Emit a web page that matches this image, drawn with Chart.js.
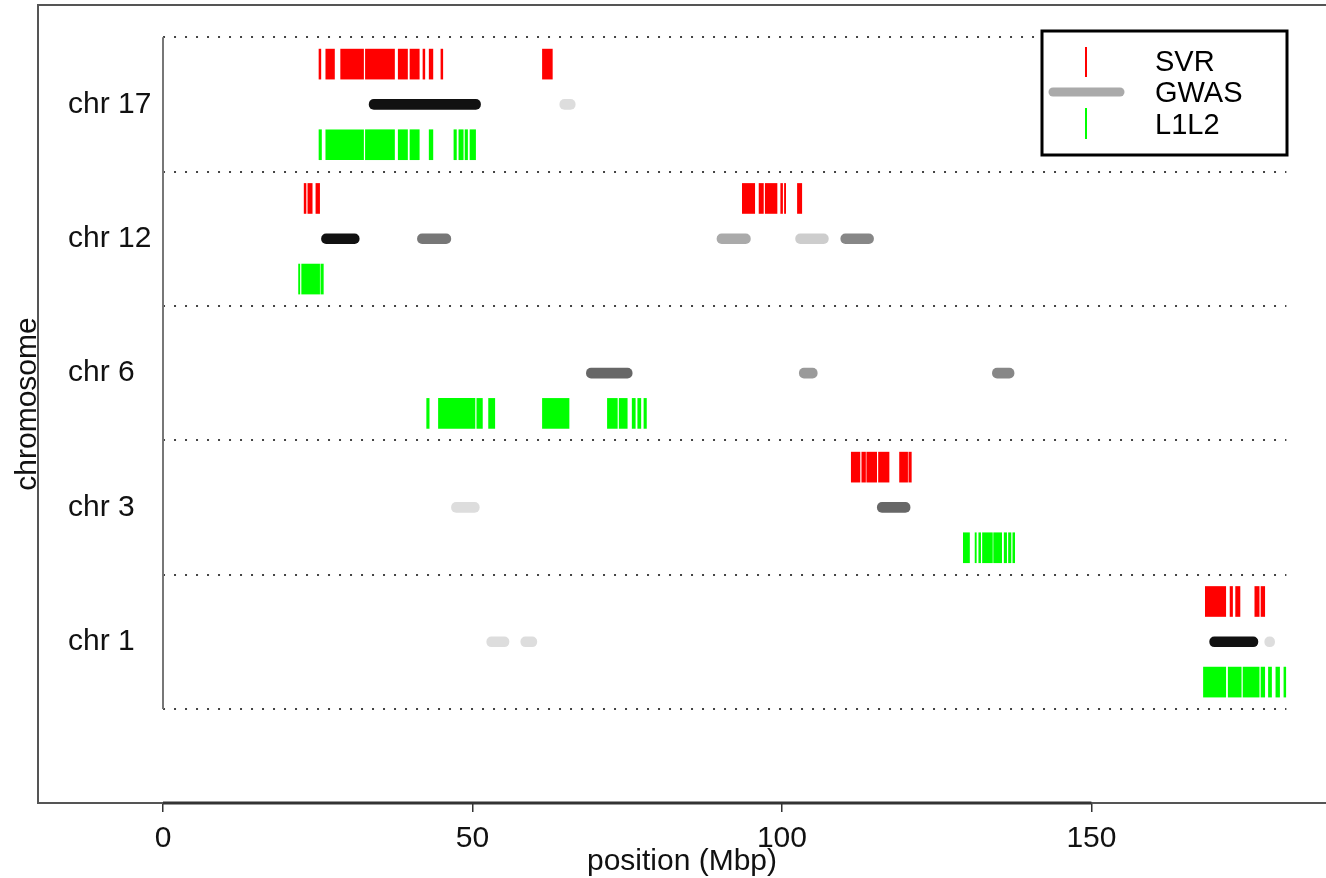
<!DOCTYPE html>
<html lang="en">
<head>
    <meta charset="UTF-8">
    <title>SVR / GWAS / L1L2 regions</title>
    <script src="https://cdn.jsdelivr.net/npm/chart.js"></script>
    <style>
        body { margin: 0; background: #fff; }
        #wrap { width: 1326px; height: 878px; }
    </style>
</head>
<body>
<div id="wrap"><canvas id="grafico"></canvas></div>

<script>
    // chromosomes, from bottom to top
    const chromosomes = ['chr 1', 'chr 3', 'chr 6', 'chr 12', 'chr 17'];
    const xTicks = [0, 50, 100, 150];

    // [chromosome, start Mbp, end Mbp]
    const svrRegions = [
        ['chr 17', 25.2, 25.5], ['chr 17', 26.3, 27.7], ['chr 17', 28.7, 32.4], ['chr 17', 32.7, 37.4],
        ['chr 17', 38.0, 39.5], ['chr 17', 39.9, 41.4], ['chr 17', 42.0, 42.3], ['chr 17', 43.0, 43.6],
        ['chr 17', 44.9, 45.2], ['chr 17', 61.3, 62.9],
        ['chr 12', 22.8, 23.1], ['chr 12', 23.4, 24.1], ['chr 12', 24.7, 25.3], ['chr 12', 93.6, 95.6],
        ['chr 12', 96.3, 97.0], ['chr 12', 97.3, 99.2], ['chr 12', 99.8, 100.1], ['chr 12', 100.4, 100.6],
        ['chr 12', 102.5, 103.2],
        ['chr 3', 111.2, 112.6], ['chr 3', 112.9, 113.5], ['chr 3', 113.7, 115.3], ['chr 3', 115.6, 117.3],
        ['chr 3', 119.0, 120.3], ['chr 3', 120.5, 120.9],
        ['chr 1', 168.4, 171.7], ['chr 1', 172.4, 172.8], ['chr 1', 173.3, 174.0], ['chr 1', 176.4, 177.1],
        ['chr 1', 177.4, 178.0]
    ];

    // [chromosome, start Mbp, end Mbp]
    const gwasRegions = [
        ['chr 17', 33.3, 51.3], ['chr 17', 64.1, 66.6],
        ['chr 12', 25.6, 31.7], ['chr 12', 41.1, 46.5], ['chr 12', 89.5, 94.9], ['chr 12', 102.2, 107.5],
        ['chr 12', 109.5, 114.8],
        ['chr 6', 68.4, 75.8], ['chr 6', 102.8, 105.7], ['chr 6', 134.0, 137.5],
        ['chr 3', 46.6, 51.1], ['chr 3', 115.4, 120.7],
        ['chr 1', 52.3, 55.9], ['chr 1', 57.8, 60.4], ['chr 1', 169.1, 176.9], ['chr 1', 178.0, 179.6]
    ];
    // strength of each GWAS region (1 = strongest), same order as gwasRegions
    const gwasStrength = [1.0, 0.0, 1.0, 0.5, 0.25, 0.08, 0.42, 0.58, 0.33, 0.42, 0.0, 0.58, 0.0, 0.0, 1.0, 0.0];

    // [chromosome, start Mbp, end Mbp]
    const l1l2Regions = [
        ['chr 17', 25.2, 25.6], ['chr 17', 26.3, 32.4], ['chr 17', 32.7, 37.4], ['chr 17', 38.0, 39.5],
        ['chr 17', 39.9, 41.4], ['chr 17', 43.0, 43.6], ['chr 17', 47.0, 47.4], ['chr 17', 47.8, 48.5],
        ['chr 17', 48.8, 49.2], ['chr 17', 49.6, 50.5],
        ['chr 12', 21.9, 22.1], ['chr 12', 22.4, 25.3], ['chr 12', 25.5, 25.9],
        ['chr 6', 42.6, 43.0], ['chr 6', 44.5, 50.4], ['chr 6', 50.7, 51.6], ['chr 6', 52.6, 53.6],
        ['chr 6', 61.3, 65.6], ['chr 6', 71.8, 73.4], ['chr 6', 73.7, 75.0], ['chr 6', 75.8, 76.3],
        ['chr 6', 76.7, 77.2], ['chr 6', 77.7, 78.1],
        ['chr 3', 129.3, 130.3], ['chr 3', 131.2, 131.4], ['chr 3', 131.8, 132.1], ['chr 3', 132.4, 134.0],
        ['chr 3', 134.2, 135.5], ['chr 3', 135.9, 136.3], ['chr 3', 136.6, 137.0], ['chr 3', 137.3, 137.6],
        ['chr 1', 168.1, 171.7], ['chr 1', 172.1, 174.2], ['chr 1', 174.5, 177.1], ['chr 1', 177.4, 178.0],
        ['chr 1', 178.6, 179.1], ['chr 1', 179.8, 180.4], ['chr 1', 181.1, 181.4]
    ];

    // each chromosome gets a band of height 1, the three series sit at fixed offsets in it
    function aPuntos(regiones, offset) {
        return regiones.map(r => ({ x: [r[1], r[2]], y: chromosomes.indexOf(r[0]) + offset }));
    }

    function gris(s) {
        const g = Math.round(221 - s * 204);
        return `rgb(${g},${g},${g})`;
    }

    const fuente = 'Liberation Sans, Arial, sans-serif';

    // dotted lines between chromosomes, y axis line, frame
    const decoracion = {
        id: 'decoracion',
        beforeDatasetsDraw(chart) {
            const { ctx, scales: { x, y } } = chart;
            ctx.save();
            ctx.strokeStyle = '#444';
            ctx.lineWidth = 2;
            ctx.setLineDash([2, 9]);
            for (let i = 0; i <= chromosomes.length; i++) {
                const py = Math.round(y.getPixelForValue(i));
                ctx.beginPath();
                ctx.moveTo(x.getPixelForValue(0), py);
                ctx.lineTo(x.getPixelForValue(181.5), py);
                ctx.stroke();
            }
            ctx.setLineDash([]);
            ctx.strokeStyle = '#777';
            ctx.lineWidth = 2;
            const px0 = Math.round(x.getPixelForValue(0));
            ctx.beginPath();
            ctx.moveTo(px0, y.getPixelForValue(0));
            ctx.lineTo(px0, y.getPixelForValue(chromosomes.length));
            ctx.stroke();
            ctx.restore();
        },
        afterDraw(chart) {
            const { ctx, chartArea: a, scales: { x } } = chart;
            ctx.save();
            ctx.strokeStyle = '#555';
            ctx.lineWidth = 2;
            ctx.beginPath();
            ctx.moveTo(a.right + 5, a.top);
            ctx.lineTo(a.left, a.top);
            ctx.lineTo(a.left, a.bottom);
            ctx.lineTo(a.right + 5, a.bottom);
            ctx.stroke();
            // axis line from first to last tick
            ctx.strokeStyle = '#333';
            ctx.lineWidth = 3;
            ctx.beginPath();
            ctx.moveTo(x.getPixelForValue(xTicks[0]), a.bottom);
            ctx.lineTo(x.getPixelForValue(xTicks[xTicks.length - 1]), a.bottom);
            ctx.stroke();
            ctx.restore();
        }
    };

    // legend in the top right corner
    const leyenda = {
        id: 'leyenda',
        afterDraw(chart) {
            const { ctx, chartArea: a } = chart;
            const bx = a.right - 284, by = a.top + 26, bw = 245, bh = 124;
            ctx.save();
            ctx.fillStyle = '#fff';
            ctx.fillRect(bx, by, bw, bh);
            ctx.strokeStyle = '#000';
            ctx.lineWidth = 3;
            ctx.strokeRect(bx, by, bw, bh);
            const cx = bx + 44;
            const ds = chart.data.datasets;
            ctx.lineWidth = 2;
            ctx.strokeStyle = ds[0].backgroundColor;
            ctx.beginPath(); ctx.moveTo(cx, by + 16); ctx.lineTo(cx, by + 46); ctx.stroke();
            ctx.strokeStyle = '#aaa';
            ctx.lineWidth = 9;
            ctx.lineCap = 'round';
            ctx.beginPath(); ctx.moveTo(bx + 11, by + 61); ctx.lineTo(bx + 78, by + 61); ctx.stroke();
            ctx.lineCap = 'butt';
            ctx.lineWidth = 2;
            ctx.strokeStyle = ds[2].backgroundColor;
            ctx.beginPath(); ctx.moveTo(cx, by + 77); ctx.lineTo(cx, by + 108); ctx.stroke();
            ctx.fillStyle = '#000';
            ctx.font = '29px ' + fuente;
            ctx.textBaseline = 'middle';
            ctx.fillText(ds[0].label, bx + 113, by + 32);
            ctx.fillText(ds[1].label, bx + 113, by + 63);
            ctx.fillText(ds[2].label, bx + 113, by + 95);
            ctx.restore();
        }
    };

    const ctx = document.getElementById('grafico').getContext('2d');
    new Chart(ctx, {
        type: 'bar',
        data: {
            datasets: [{
                label: 'SVR',
                data: aPuntos(svrRegions, 0.8),
                backgroundColor: '#ff0000',
                barThickness: 30,
                grouped: false,
                borderSkipped: false
            }, {
                label: 'GWAS',
                data: aPuntos(gwasRegions, 0.5),
                backgroundColor: gwasStrength.map(gris),
                barThickness: 10,
                borderRadius: 5,
                grouped: false,
                borderSkipped: false
            }, {
                label: 'L1L2',
                data: aPuntos(l1l2Regions, 0.2),
                backgroundColor: '#00ff00',
                barThickness: 30,
                grouped: false,
                borderSkipped: false
            }]
        },
        options: {
            indexAxis: 'y',
            responsive: true,
            maintainAspectRatio: false,
            animation: false,
            layout: { padding: { top: 5, right: 0, left: 0, bottom: 0 } },
            plugins: { legend: { display: false }, tooltip: { enabled: false } },
            scales: {
                x: {
                    type: 'linear',
                    min: -20.2,
                    max: 187.9,
                    afterFit: s => { s.height = 75; s.paddingLeft = 0; s.paddingRight = 0; },
                    afterBuildTicks: s => { s.ticks = xTicks.map(v => ({ value: v })); },
                    grid: { drawOnChartArea: false, drawTicks: true, tickLength: 9, color: '#333', lineWidth: 1.5 },
                    border: { display: false },
                    ticks: { color: '#111', font: { family: fuente, size: 30 }, padding: 9, maxRotation: 0 },
                    title: { display: true, text: 'position (Mbp)', color: '#111', font: { family: fuente, size: 30 }, padding: { top: 0, bottom: -2 } }
                },
                y: {
                    type: 'linear',
                    offset: false,
                    min: -0.70,
                    max: 5.24,
                    afterFit: s => { s.width = 38; s.paddingTop = 0; s.paddingBottom = 0; },
                    afterBuildTicks: s => { s.ticks = chromosomes.map((c, i) => ({ value: i + 0.5 })); },
                    grid: { display: false, offset: false },
                    border: { display: false },
                    ticks: {
                        mirror: true,
                        padding: 30,
                        color: '#111',
                        font: { family: fuente, size: 30 },
                        callback: v => chromosomes[Math.round(v - 0.5)]
                    },
                    title: { display: true, text: 'chromosome', color: '#111', font: { family: fuente, size: 30 }, padding: { top: 10, bottom: 0 } }
                }
            }
        },
        plugins: [decoracion, leyenda]
    });
</script>
</body>
</html>
